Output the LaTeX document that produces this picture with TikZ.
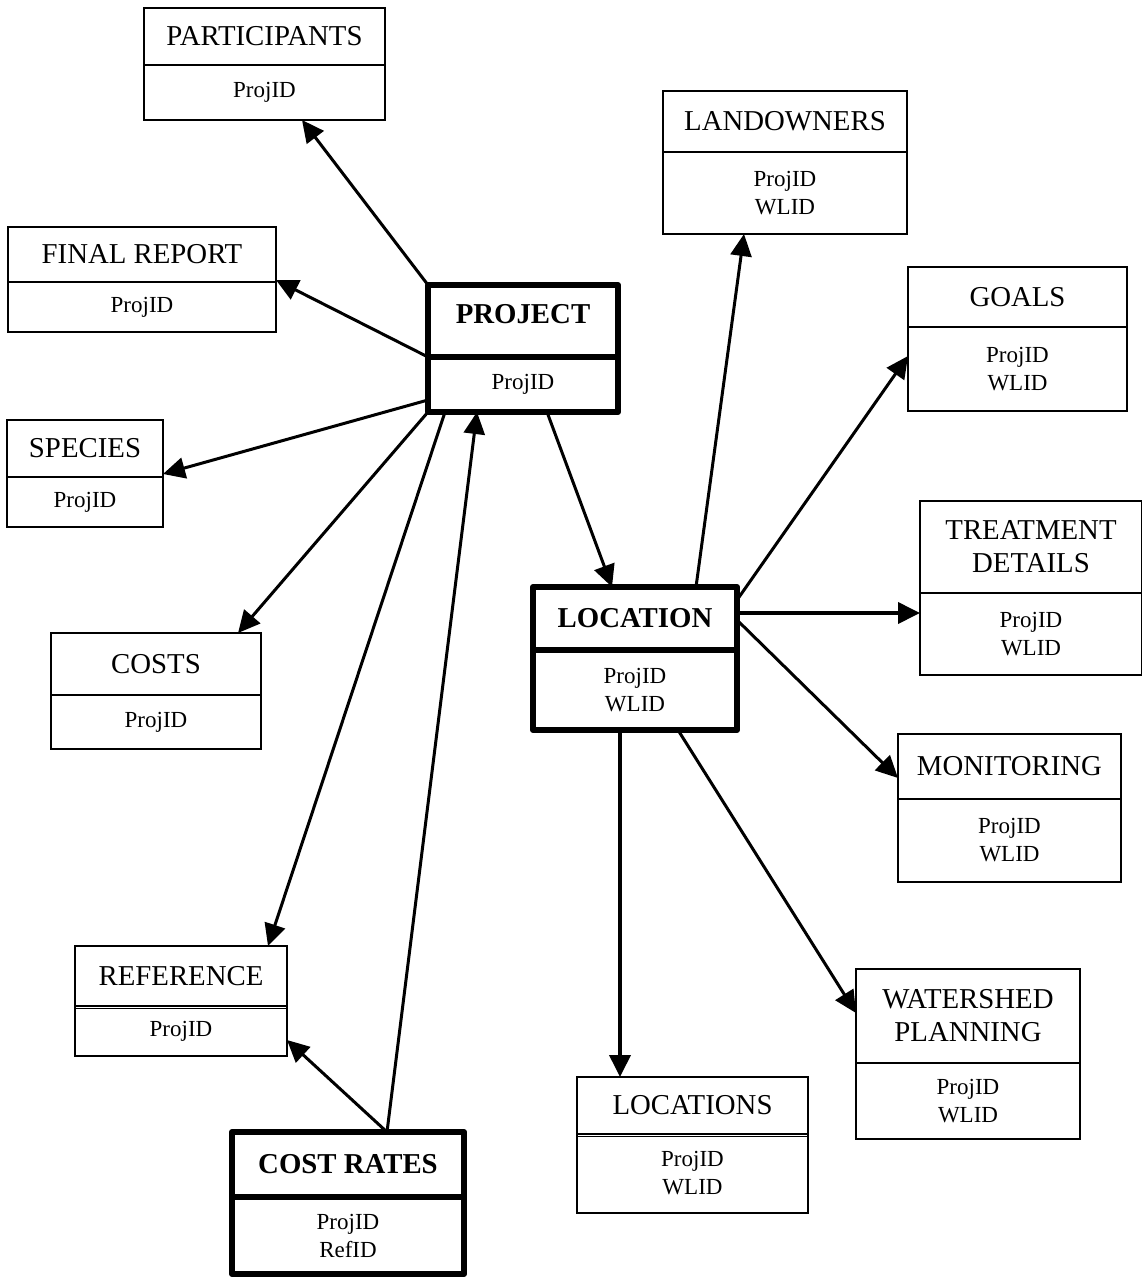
\documentclass[tikz,border=0pt]{standalone}
\usepackage{fontspec}
\setmainfont{Liberation Serif}
\usetikzlibrary{arrows.meta,calc}

% entity box: name, box style, x1, y1, x2, y2, divider y, title, attributes
\newcommand\erent[9]{%
  \node[#2, minimum width={#5-#3}, minimum height={#6-#4}] (#1) at ({(#3+#5)/2},{(#4+#6)/2}) {};
  \path (#1.north west) ++(0,{#7-#4}) coordinate (#1-d);
  \coordinate (#1-de) at (#1-d -| #1.east);
  \draw[#2] (#1-d) -- (#1-de);
  \node[titletext, #1-title/.try] (#1-t) at ({(#3+#5)/2},{(#4+#7)/2}) {#8};
  \node[attrtext] (#1-a) at ({(#3+#5)/2},{(#7+#6)/2}) {#9};
}

\begin{document}
\begin{tikzpicture}[x=1pt, y=-1pt,
  thinbox/.style={draw, line width=1.5pt, inner sep=0pt, outer sep=0pt},
  thickbox/.style={draw, line width=6pt, line join=round, inner sep=0pt, outer sep=0pt},
  titletext/.style={inner sep=0pt, align=center, font=\fontsize{28.8}{33}\selectfont},
  attrtext/.style={inner sep=0pt, align=center, font=\fontsize{23}{28}\selectfont},
  proj-title/.style={yshift=7pt},
  conn/.style={line width=3pt, -{Triangle[length=22pt,width=21pt]}},
  heavyconn/.style={conn, line width=3.8pt}]

\useasboundingbox (0,0) rectangle (1141,1279);

% entities
\erent{part}{thinbox}{144}{8}{385}{120}{65}{PARTICIPANTS}{ProjID}
\erent{frep}{thinbox}{8}{227}{276}{332}{282}{FINAL REPORT}{ProjID}
\erent{proj}{thickbox}{428}{285}{618}{412}{357}{\bfseries PROJECT}{ProjID}
\erent{spec}{thinbox}{7}{420}{163}{527}{477}{SPECIES}{ProjID}
\erent{cost}{thinbox}{51}{633}{261}{749}{695}{COSTS}{ProjID}
\erent{land}{thinbox}{663}{91}{907}{234}{152}{LANDOWNERS}{ProjID\\WLID}
\erent{goal}{thinbox}{908}{267}{1127}{411}{327}{GOALS}{ProjID\\WLID}
\erent{treat}{thinbox}{920}{501}{1142}{675}{593}{TREATMENT\\DETAILS}{ProjID\\WLID}
\erent{loc}{thickbox}{533}{587}{737}{730}{650}{\bfseries LOCATION}{ProjID\\WLID}
\erent{mon}{thinbox}{898}{734}{1121}{882}{799}{MONITORING}{ProjID\\WLID}
\erent{wat}{thinbox}{856}{969}{1080}{1139}{1063}{WATERSHED\\PLANNING}{ProjID\\WLID}
\erent{locs}{thinbox}{577}{1077}{808}{1213}{1134}{LOCATIONS}{ProjID\\WLID}
\erent{ref}{thinbox}{75}{946}{287}{1056}{1006}{REFERENCE}{ProjID}
\erent{crate}{thickbox}{232}{1132}{464}{1274}{1197}{\bfseries COST RATES}{ProjID\\RefID}

% doubled dividers
\draw[thinbox] ([yshift=-2.5pt]ref-d) -- ([yshift=-2.5pt]ref-de);
\draw[thinbox] ([yshift=-2.5pt]locs-d) -- ([yshift=-2.5pt]locs-de);

% relationships from PROJECT
\draw[conn] (proj.north west) -- ([xshift=158pt]part.south west);
\draw[conn] ([yshift=-72pt]proj.north west) -- ([yshift=-53pt]frep.north east);
\draw[conn] ([yshift=-115pt]proj.north west) -- ([yshift=-54pt]spec.north east);
\draw[conn] (proj.south west) -- ([xshift=187pt]cost.north west);
\draw[conn] ([xshift=17pt]proj.south west) -- ([xshift=193pt]ref.north west);
\draw[conn] ([xshift=119pt]proj.south west) -- ([xshift=79pt]loc.north west);

% relationships from COST RATES
\draw[conn] ([xshift=155pt]crate.north west) -- ([xshift=49pt]proj.south west);
\draw[conn] ([xshift=155pt]crate.north west) -- ([yshift=-94pt]ref.north east);

% relationships from LOCATION
\draw[conn] ([xshift=163pt]loc.north west) -- ([xshift=81pt]land.south west);
\draw[conn] ([yshift=-13pt]loc.north east) -- ([yshift=-89pt]goal.north west);
\draw[heavyconn] ([yshift=-26pt]loc.north east) -- ([yshift=-112pt]treat.north west);
\draw[conn] ([yshift=-33pt]loc.north east) -- ([yshift=-44pt]mon.north west);
\draw[conn] ([xshift=145pt]loc.south west) -- ([yshift=-44pt]wat.north west);
\draw[heavyconn] ([xshift=87pt]loc.south west) -- ([xshift=43pt]locs.north west);

\end{tikzpicture}
\end{document}
